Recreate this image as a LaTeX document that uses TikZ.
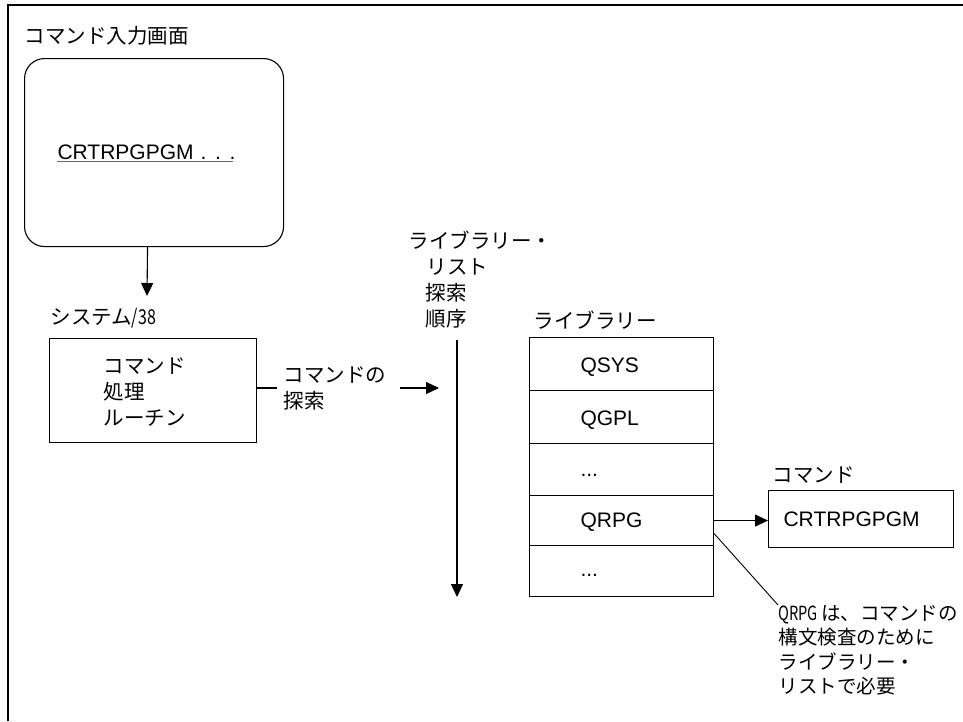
\documentclass[tikz,border=0pt]{standalone}
\usepackage{fontspec}
\setmainfont{Liberation Sans}
\newfontfamily\jp{Noto Sans CJK JP}
\usetikzlibrary{arrows.meta}
\begin{document}
\begin{tikzpicture}[x=1pt,y=-1pt, line width=1.1pt,
  jt/.style={font=\jp\fontsize{20.5}{26}\selectfont, inner sep=0pt, anchor=west},
  nt/.style={font=\jp\fontsize{19.5}{24.4}\selectfont, inner sep=0pt},
  lt/.style={font=\fontsize{21}{25}\selectfont, inner sep=0pt, anchor=west},
  arr/.style={-{Triangle[length=13pt,width=12pt]}},
  boxr/.style={draw, inner sep=0pt, anchor=north west}]
\useasboundingbox (0,0) rectangle (963,721);
% outer frame
\draw[line width=1.6pt] (8,721) -- (8,5) -- (963,5);

% command entry screen
\node[jt] (title) at (24,36) {コマンド入力画面};
\node[boxr, rounded corners=20pt, minimum width=259pt, minimum height=188pt] (screen) at (24,58) {};
\node[lt, anchor=base west] (crt) at (57,159) {CRTRPGPGM\hspace{7pt}.\hspace{8.7pt}.\hspace{8.7pt}.};
\draw[line width=1pt, black!60] ([yshift=-2pt]crt.base west) -- ([yshift=-2pt,xshift=-3pt]crt.base east);
\coordinate (a1) at (147,296);
\draw[arr] ([xshift=-6.5pt]screen.south) -- (a1);

% System/38
\node[jt] (sys) at (50,318) {システム\scalebox{0.78}[1]{/38}};
\node[boxr, minimum width=207pt, minimum height=104pt] (proc) at (49,338) {};
\node[jt, anchor=north west, align=left] (proctext) at (103,357) {コマンド\\処理\\ルーチン};

\node[jt, align=left, inner xsep=6pt] (search) at (277,388) {コマンドの\\探索};
\coordinate (a2) at (439,388);
\draw (proc.east |- search.west) -- (search.west);
\draw[arr, shorten <=7pt] (search.east) -- (a2);

% library list search order
\node[jt, anchor=north west, align=left] (order) at (408,230) {ライブラリー・\\\hspace{18pt}リスト\\\hspace{17pt}探索\\\hspace{17pt}順序};
\coordinate (o1) at (457,340);
\coordinate (o2) at (457,597);
\draw[arr] (o1) -- (o2);

% library stack
\node[jt] (libtitle) at (533,320) {ライブラリー};
\node[boxr, minimum width=184pt, minimum height=53pt] (r1) at (529,337) {};
\node[boxr, minimum width=184pt, minimum height=53pt] (r2) at (529,390) {};
\node[boxr, minimum width=184pt, minimum height=52pt] (r3) at (529,443) {};
\node[boxr, minimum width=184pt, minimum height=50pt] (r4) at (529,495) {};
\node[boxr, minimum width=184pt, minimum height=51pt] (r5) at (529,545) {};
\node[lt] (t1) at ([yshift=-3pt]r1.west -| 580,0) {QSYS};
\node[lt] (t2) at ([yshift=-3pt]r2.west -| 580,0) {QGPL};
\node[lt, anchor=base west] (t3) at (580,476) {...};
\node[lt] (t4) at ([yshift=-2pt]r4.west -| 580,0) {QRPG};
\node[lt, anchor=base west] (t5) at (580,576) {...};

% command box
\node[jt] (cmdlabel) at (772,475) {コマンド};
\node[boxr, minimum width=185pt, minimum height=57pt] (cmdbox) at (768,490) {};
\node[lt] (cmdtext) at (783,519) {CRTRPGPGM};
\draw[arr] (r4.east) -- (r4.east -| cmdbox.west);

% note
\node[nt, anchor=north west, align=left] (note) at (778,605) {\scalebox{0.75}[1]{QRPG}\hspace{3pt}は、コマンドの\\構文検査のために\\ライブラリー・\\リストで必要};
\draw[line width=0.9pt] ([yshift=-13pt]r4.east) -- (note.north west);
\end{tikzpicture}
\end{document}
